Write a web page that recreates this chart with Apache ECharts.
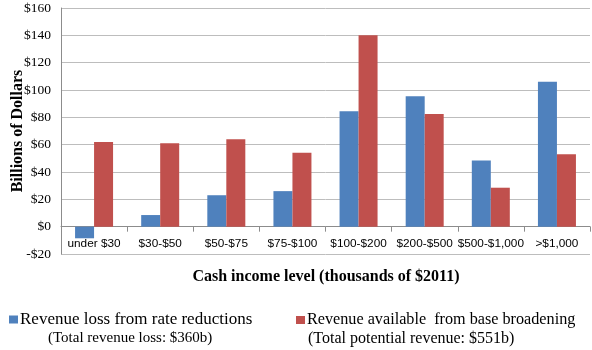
<!DOCTYPE html>
<html><head><meta charset="utf-8">
<script src="https://cdn.jsdelivr.net/npm/echarts@6/dist/echarts.min.js"></script>
<style>html,body{margin:0;padding:0;background:#fff}#c{width:592px;height:350px}</style>
</head><body><div id="c"></div>
<script>
const categories = ['under $30','$30-$50','$50-$75','$75-$100','$100-$200','$200-$500','$500-$1,000','>$1,000'];
const rateReductionLoss = [-8.5, 8.5, 23, 26, 84.5, 95.5, 48.5, 106];
const baseBroadeningRevenue = [62, 61, 64, 54, 140, 82.5, 28.5, 53];
const seriesNames = ['Revenue loss from rate reductions','Revenue available  from base broadening'];
const subNotes = ['(Total revenue loss: $360b)','(Total potential revenue: $551b)'];
const xTitle = 'Cash income level (thousands of $2011)';
const yTitle = 'Billions of Dollars';
const yTicks = {min:-20, max:160, interval:20};

const serif = 'Liberation Serif';
const chart = echarts.init(document.getElementById('c'));
chart.setOption({
  animation:false,
  grid:{left:61, right:2, top:8, bottom:96, containLabel:false, outerBoundsMode:'none'},
  legend:[
    {data:[seriesNames[0]], left:4, top:306, itemWidth:9, itemHeight:8, itemGap:4, icon:'rect',
     textStyle:{fontFamily:serif, fontSize:17, color:'#000', padding:[0,0,0,-3]}},
    {data:[seriesNames[1]], left:291, top:307, itemWidth:9, itemHeight:8, itemGap:4, icon:'rect',
     textStyle:{fontFamily:serif, fontSize:16.2, color:'#000', padding:[0,0,0,-3]}}
  ],
  graphic:[
    {type:'text', left:48, top:331, style:{text:subNotes[0], font:'15px "Liberation Serif"', fill:'#000'}},
    {type:'text', left:308, top:331, style:{text:subNotes[1], font:'16px "Liberation Serif"', fill:'#000'}},
    {type:'text', x:326, y:277, style:{text:xTitle, font:'bold 16px "Liberation Serif"', fill:'#000', align:'center', verticalAlign:'middle'}}
  ],
  xAxis:{
    type:'category', data:categories,
    axisLine:{onZero:true, lineStyle:{color:'#8c8c8c'}},
    axisTick:{show:true, alignWithLabel:false, length:5, lineStyle:{color:'#8c8c8c'}},
    axisLabel:{fontFamily:'Liberation Sans', fontSize:11.8, color:'#000', margin:-16, interval:0}
  },
  yAxis:{
    type:'value', min:yTicks.min, max:yTicks.max, interval:yTicks.interval,
    axisLine:{show:true, lineStyle:{color:'#8c8c8c'}},
    axisTick:{show:false},
    splitLine:{lineStyle:{color:'#bdbdbd', width:1}},
    axisLabel:{fontFamily:serif, fontSize:13.5, color:'#000', margin:10,
      formatter:v => (v<0?'-$':'$')+Math.abs(v)},
    name:yTitle, nameLocation:'middle', nameGap:35, nameMoveOverlap:false,
    nameTextStyle:{fontFamily:serif, fontWeight:'bold', fontSize:16, color:'#000'}
  },
  series:[
    {name:seriesNames[0], type:'bar', data:rateReductionLoss, barWidth:19, barGap:'0%', itemStyle:{color:'#4f81bd'}},
    {name:seriesNames[1], type:'bar', data:baseBroadeningRevenue, barWidth:19, barGap:'0%', itemStyle:{color:'#c0504d'}}
  ]
});
</script></body></html>
